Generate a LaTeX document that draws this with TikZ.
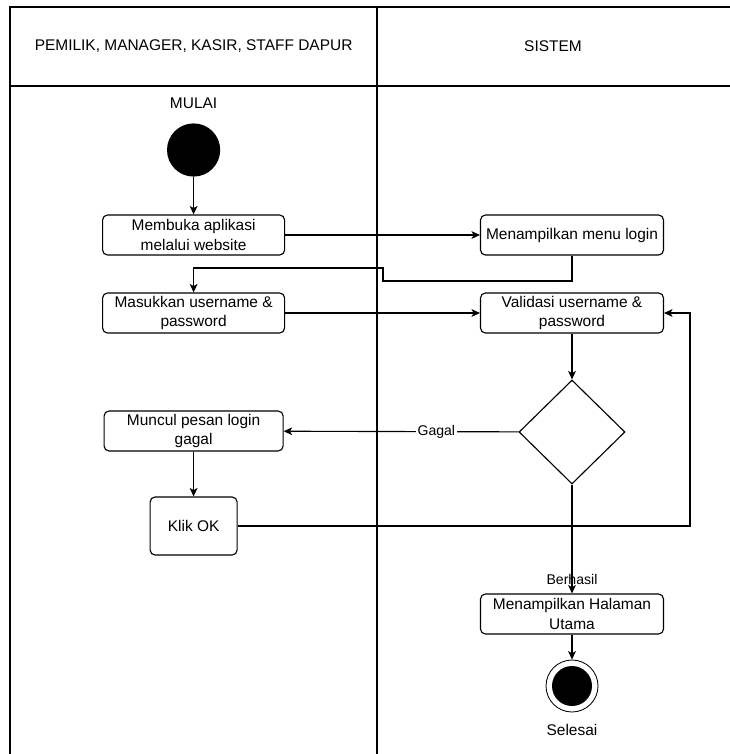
\documentclass[tikz,border=0pt]{standalone}
\usepackage{fontspec}
\setmainfont{Liberation Sans}
\usetikzlibrary{shapes.geometric,arrows.meta}

\begin{document}
\begin{tikzpicture}[
  font=\fontsize{11}{14}\selectfont,
  act/.style={draw,rounded corners=3.5pt,line width=0.8pt,minimum width=4.55cm,minimum height=1cm,align=center,inner sep=1pt},
  flow/.style={line width=0.8pt,-{Stealth[length=6pt,width=5.5pt,inset=1.5pt]}},
  lane/.style={line width=0.9pt}
]
\useasboundingbox (0,0) rectangle (18.25,-18.85);
% swimlanes
\draw[lane] (18.25,-0.175) -- (0.25,-0.175) -- (0.25,-18.85);
\draw[lane] (9.425,-0.175) -- (9.425,-18.85);
\draw[lane] (0.25,-2.15) -- (18.25,-2.15);
\node (user) at (4.84,-1.15) {PEMILIK, MANAGER, KASIR, STAFF DAPUR};
\node (sys) at (13.825,-1.15) {SISTEM};

% nodes
\node (mulai) at (4.84,-2.575) {MULAI};
\node[circle,fill=black,minimum size=1.33cm,inner sep=0] (start) at (4.84,-3.75) {};
\node[act] (open) at (4.84,-5.875) {Membuka aplikasi\\melalui website};
\node[act,minimum width=4.575cm] (menu) at (14.3,-5.875) {Menampilkan menu login};
\node[act] (input) at (4.84,-7.825) {Masukkan username \&\\password};
\node[act,minimum width=4.575cm] (valid) at (14.3,-7.825) {Validasi username \&\\password};
\node[diamond,draw,line width=0.8pt,inner sep=0,minimum width=2.65cm,minimum height=2.6cm] (dec) at (14.3,-10.8) {};
\node[act,minimum width=4.475cm] (fail) at (4.84,-10.775) {Muncul pesan login\\gagal};
\node[act,minimum width=2.175cm,minimum height=1.45cm] (ok) at (4.84,-13.15) {Klik OK};
\node[act,minimum width=4.575cm] (home) at (14.3,-15.35) {Menampilkan Halaman\\Utama};
\node[circle,draw,line width=0.6pt,minimum size=1.3cm,inner sep=0] (end) at (14.3,-17.15) {};
\fill (end) circle (0.5cm);
\node (selesai) at (14.3,-18.25) {Selesai};

% connectors
\coordinate (c1) at (9.575,-7.025);
\coordinate (c2) at (4.84,-6.7);
\coordinate (c3) at (17.25,-13.15);
\draw[flow] (start) -- (open);
\draw[flow] (open) -- (menu);
\draw[flow] (menu.south) |- (c1) |- (c2) -- (input.north);
\draw[flow] (input) -- (valid);
\draw[flow] (valid) -- (dec);
\draw[flow] (dec) -- node[pos=0.35,fill=white,inner sep=1pt,font=\fontsize{10}{12}\selectfont]{Gagal} (fail);
\draw[flow] (fail) -- (ok);
\draw[flow] (ok) -- (c3) |- (valid);
\draw[flow] (dec) -- node[pos=0.87,font=\fontsize{10}{12}\selectfont]{Berhasil} (home);
\draw[flow] (home) -- (end);
\end{tikzpicture}
\end{document}
